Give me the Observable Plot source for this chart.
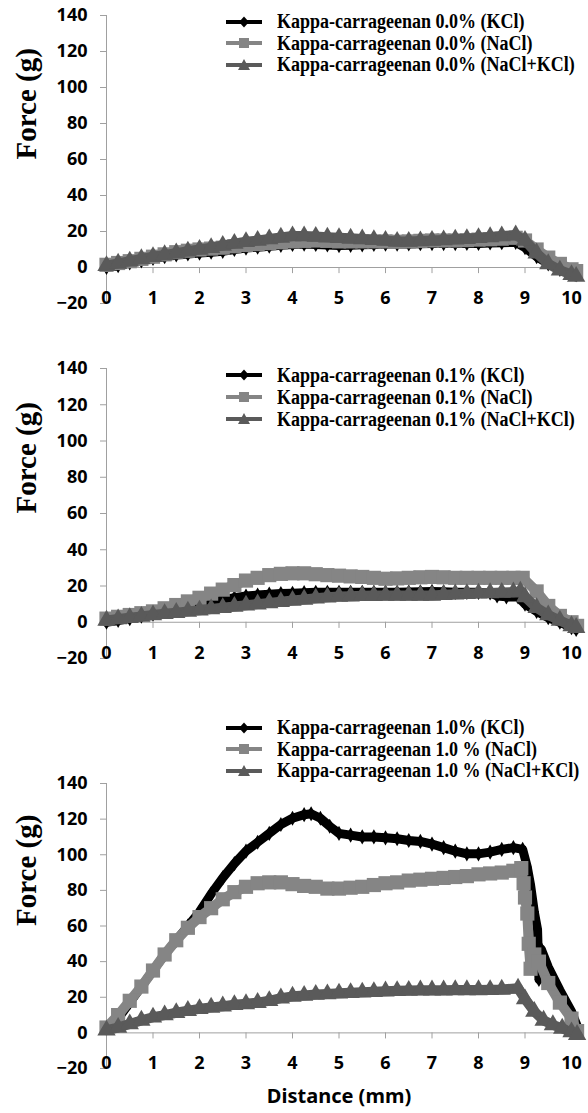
<!DOCTYPE html>
<html><head><meta charset="utf-8">
<script src="https://cdn.jsdelivr.net/npm/d3@7"></script>
<script src="https://cdn.jsdelivr.net/npm/@observablehq/plot@0.6"></script>
<style>
body{margin:0;background:#fff;}
#root{position:relative;width:588px;height:1113px;overflow:hidden;background:#fff;}
.panel{position:absolute;left:0;}
.legend{position:absolute;left:226px;font-family:"Liberation Serif","Times New Roman",serif;font-weight:bold;font-size:20px;color:#000;}
.legend .row{display:flex;align-items:center;white-space:nowrap;}
.legend svg{margin-right:15px;flex:none;}
.legend span{display:inline-block;transform:scaleX(0.9);transform-origin:left center;}
</style></head><body><div id="root"></div>
<script>
// ---- axis ticks ----
const xTicks = [0,1,2,3,4,5,6,7,8,9,10];
const yTicks = [-20,0,20,40,60,80,100,120,140];

// ---- Panel 1: Kappa-carrageenan 0.0% ----
const names00 = ["Kappa-carrageenan 0.0% (KCl)","Kappa-carrageenan 0.0% (NaCl)","Kappa-carrageenan 0.0% (NaCl+KCl)"];
const dist00 = [0,0.25,0.5,0.75,1,1.25,1.5,1.75,2,2.25,2.5,2.75,3,3.25,3.5,3.75,4,4.25,4.5,4.75,5,5.25,5.5,5.75,6,6.25,6.5,6.75,7,7.25,7.5,7.75,8,8.25,8.5,8.8,9.0,9.25,9.5,9.75,10,10.1];
const kcl00 = [0,1,2.5,3.7,5,6,7,7.5,8,8.5,9,10,10.8,11.3,11.8,12.3,12.8,13,12.8,12.5,12.2,12.3,12.6,12.8,13,13,13.1,13.2,13.3,13.3,13.3,13.4,13.4,13.6,13.8,14,11,6,2,-1,-3,-4];
const nacl00 = [1.5,2.5,3.5,4.8,6,7.3,8.5,9.3,10,10.5,11,11.8,12.5,13,13.5,14,14.5,14.8,15,14.8,14.5,14.5,14.5,14.5,14.5,14.3,14.5,14.8,15,15,15,15.2,15.5,15.7,16,16.5,15,10,5.5,2,-1,-2];
const mix00 = [1,2.3,3.5,4.8,6,7,8,9,10,11,12.2,13.3,14.3,15,15.8,16.7,17.5,17.5,17.2,16.8,16.5,16.2,15.8,15.4,15,14.4,14.4,14.7,15,15.3,15.7,16,16.5,17,17.5,18,15,8,2,-1.5,-4,-5];

// ---- Panel 2: Kappa-carrageenan 0.1% ----
const names01 = ["Kappa-carrageenan 0.1% (KCl)","Kappa-carrageenan 0.1% (NaCl)","Kappa-carrageenan 0.1% (NaCl+KCl)"];
const distKcl01 = [0,0.25,0.5,0.75,1,1.25,1.5,1.75,2,2.25,2.5,2.75,3,3.25,3.5,3.75,4,4.25,4.5,4.75,5,5.25,5.5,5.75,6,6.25,6.5,6.75,7,7.25,7.5,7.75,8,8.25,8.4,8.6,8.85,9.0,9.25,9.5,9.75,10,10.1];
const kcl01 = [0,1,2,3.3,4.5,6,7.5,9,10.5,11.5,12.5,13.5,14.5,15,15.5,15.8,16,16.3,16.5,16.5,16.5,16.5,16.5,16.5,16.5,16.5,16.7,16.8,17,16.8,16.5,16.5,16.5,16.2,14.5,14,14,10,6,2.5,0,-3,-4];
const distNacl01 = [0,0.25,0.5,0.75,1,1.25,1.5,1.75,2,2.25,2.5,2.75,3,3.25,3.5,3.75,4,4.25,4.5,4.75,5,5.25,5.5,5.75,6,6.25,6.5,6.75,7,7.25,7.5,7.75,8,8.25,8.5,8.75,8.95,9.25,9.5,9.75,10,10.12];
const nacl01 = [2,3,4,5,6,7.7,9.5,11.5,13.5,15.8,18,20.5,23,24.5,26,26.7,27,27,26.5,26,25.7,25.3,25,24.5,24,24.2,24.5,24.8,25,24.8,24.5,24.5,24.5,24.5,24.5,24.5,24.5,17,9,3.5,0,-2];
const distMix01 = [0,0.25,0.5,0.75,1,1.25,1.5,1.75,2,2.25,2.5,2.75,3,3.25,3.5,3.75,4,4.25,4.5,4.75,5,5.25,5.5,5.75,6,6.25,6.5,6.75,7,7.25,7.5,7.75,8,8.25,8.5,8.75,8.9,9.0,9.25,9.5,9.75,10,10.1];
const mix01 = [1,1.8,2.5,3.2,4,4.7,5.3,6,6.6,7.3,8,8.7,9.4,10,10.7,11.3,12,12.6,13.2,13.8,14.2,14.4,14.6,14.7,14.8,14.8,14.8,14.8,14.8,15.2,15.5,15.7,16,16.2,16.4,16.6,17,14,8,4,1,-2,-3];

// ---- Panel 3: Kappa-carrageenan 1.0% ----
const names10 = ["Kappa-carrageenan 1.0% (KCl)","Kappa-carrageenan 1.0 % (NaCl)","Kappa-carrageenan 1.0 % (NaCl+KCl)"];
const distKcl10 = [0,0.25,0.5,0.75,1,1.25,1.5,1.75,2,2.25,2.5,2.75,3,3.25,3.5,3.75,4,4.25,4.4,4.6,4.8,5,5.25,5.5,5.75,6,6.25,6.5,6.75,7,7.25,7.5,7.75,8,8.25,8.5,8.75,8.95,9.05,9.12,9.2,9.27,9.3,9.35,9.5,9.75,10,10.12];
const kcl10 = [3,8,17,26,35,44,52,60,68,78,87,95,102,107,112,117,120.5,122.5,123,120.5,116,112,111,110,110,109.5,109,108,107.5,106,104,102,100.5,100.5,101.5,103,104,103,93,83,68,58,30,47,37,24,12,4];
const distNacl10 = [0,0.25,0.5,0.75,1,1.25,1.5,1.75,2,2.25,2.5,2.75,3,3.25,3.5,3.75,4,4.25,4.5,4.75,5,5.25,5.5,5.75,6,6.25,6.5,6.75,7,7.25,7.5,7.75,8,8.25,8.5,8.75,8.92,8.97,9.0,9.05,9.08,9.12,9.2,9.3,9.5,9.75,10,10.12];
const nacl10 = [3,10,18,26,35,44,52,59,65,70,75,79,82,84,84.5,84.5,83.5,82.5,82,81,81,81.5,82,83,84,84.5,85.5,86,86.5,87,87.5,88,89,89.5,90,91,92.5,84,76,67,50,36,44,40,28,17,8,1];
const distMix10 = [0,0.25,0.5,0.75,1,1.25,1.5,1.75,2,2.25,2.5,2.75,3,3.25,3.5,3.75,4,4.25,4.5,4.75,5,5.25,5.5,5.75,6,6.25,6.5,6.75,7,7.25,7.5,7.75,8,8.25,8.5,8.85,9.0,9.2,9.4,9.6,9.8,10,10.12];
const mix10 = [1.5,3,5,7,8.8,10,11.3,12.5,13.5,14.3,15,15.8,16.3,17,18,19.5,20.5,21,21.5,21.8,22.2,22.5,22.8,23.1,23.4,23.6,23.8,24,24,24,24.1,24.1,24.1,24.2,24.4,25,19,12,7,4.5,2.5,0.5,-1];

// ---- styles for the three series ----
const seriesStyle = [
  {color:"#000000", symbol:"diamond", r:4.6, lw:9},
  {color:"#858585", symbol:"square", r:8, lw:10},
  {color:"#5a5a5a", symbol:"triangle", r:6.8, lw:10}
];

const panels = [
  {top:0, height:320, mt:15, mb:17, legendTop:11, rowH:21.5, names:names00,
   data:[[dist00,kcl00],[dist00,nacl00],[dist00,mix00]], xlabel:false},
  {top:330, height:345, mt:38, mb:17, legendTop:364, rowH:22, names:names01,
   data:[[distKcl01,kcl01],[distNacl01,nacl01],[distMix01,mix01]], xlabel:false},
  {top:700, height:413, mt:83, mb:45, legendTop:717, rowH:21.5, names:names10,
   data:[[distKcl10,kcl10],[distNacl10,nacl10],[distMix10,mix10]], xlabel:true}
];

const root = document.getElementById("root");
const axisColor = "#a0a0a0";
const sansFont = "'Noto Sans', 'Open Sans', sans-serif";
const serifFont = "'Liberation Serif', 'Times New Roman', serif";

function swatch(i){
  const c = seriesStyle[i].color;
  let m;
  if (i===0) m = `<polygon points="18,1.5 23,7 18,12.5 13,7" fill="${c}"/>`;
  else if (i===1) m = `<rect x="13" y="2" width="10" height="10" fill="${c}"/>`;
  else m = `<polygon points="18,1 24,12 12,12" fill="${c}"/>`;
  return `<svg width="36" height="14" viewBox="0 0 36 14"><line x1="0" y1="7" x2="36" y2="7" stroke="${c}" stroke-width="4"/>${m}</svg>`;
}

panels.forEach(p => {
  const marks = [
    Plot.ruleX([0], {y1:-20, y2:140, stroke:axisColor}),
    Plot.ruleY([0], {x1:0, x2:10, stroke:axisColor}),
    Plot.ruleX(xTicks.slice(1), {x:d=>d, y1:0, y2:-3.4, stroke:axisColor}),
    Plot.axisY(yTicks, {tickSize:6, tickPadding:13, stroke:axisColor, fill:"#000", label:null,
      fontSize:18, fontWeight:"bold", fontFamily:sansFont}),
    Plot.text(xTicks, {x:d=>d, y:-20, dy:-5, text:d=>String(d), fontSize:18, fontWeight:"bold", fontFamily:sansFont, fill:"#000"}),
    Plot.text(["Force (g)"], {frameAnchor:"left", rotate:-90, dx:-80, fontSize:29, fontWeight:"bold", fontFamily:serifFont, fill:"#000"})
  ];
  if (p.xlabel) marks.push(Plot.text(["Distance (mm)"], {frameAnchor:"bottom", dy:34, fontSize:20, fontWeight:"bold", fontFamily:sansFont, fill:"#000"}));
  p.data.forEach(([xs, ys], i) => {
    const s = seriesStyle[i];
    const rows = xs.map((x, k) => ({x, y: ys[k]}));
    marks.push(Plot.line(rows, {x:"x", y:"y", stroke:s.color, strokeWidth:s.lw, strokeLinejoin:"round"}));
    marks.push(Plot.dot(rows, {x:"x", y:"y", symbol:s.symbol, r:s.r, fill:s.color, stroke:"none"}));
  });
  const svg = Plot.plot({
    width:588, height:p.height, marginTop:p.mt, marginBottom:p.mb, marginLeft:106, marginRight:17,
    x:{domain:[0,10], axis:null},
    y:{domain:[-20,140]},
    style:{background:"transparent", overflow:"visible", color:"#000"},
    marks
  });
  svg.classList.add("panel");
  svg.style.top = p.top + "px";
  root.appendChild(svg);

  const lg = document.createElement("div");
  lg.className = "legend";
  lg.style.top = p.legendTop + "px";
  lg.innerHTML = p.names.map((n, i) => `<div class="row" style="height:${p.rowH}px">${swatch(i)}<span>${n}</span></div>`).join("");
  root.appendChild(lg);
});
</script></body></html>
